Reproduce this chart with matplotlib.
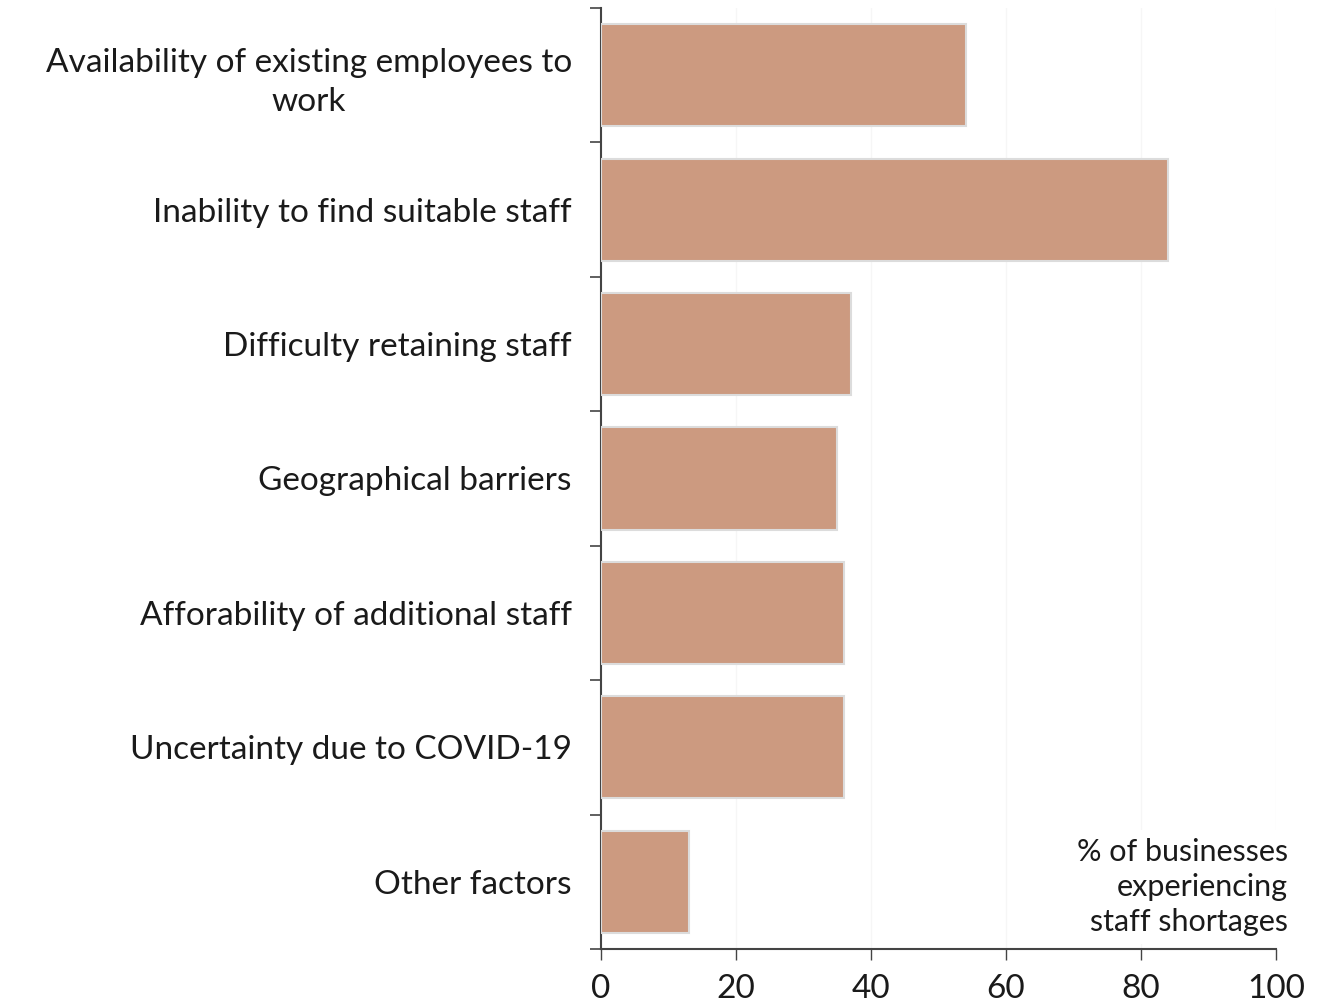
import matplotlib
matplotlib.use("Agg")
import matplotlib.pyplot as plt
import numpy as np

categories = [
    "Availability of existing employees to\nwork",
    "Inability to find suitable staff",
    "Difficulty retaining staff",
    "Geographical barriers",
    "Afforability of additional staff",
    "Uncertainty due to COVID-19",
    "Other factors",
]
values = [54, 84, 37, 35, 36, 36, 13]
xticks = [0, 20, 40, 60, 80, 100]
note = "% of businesses\nexperiencing\nstaff shortages"

plt.rcParams['font.family'] = ['Lato', 'DejaVu Sans']

fig = plt.figure(figsize=(13.32, 10.08), dpi=100)
ax = fig.add_axes([601/1332, 1-949/1008, 675/1332, 941/1008])

y = np.arange(len(categories))
ax.barh(y, values, height=0.76, color="#CC9A80", edgecolor="#DCDCDC", linewidth=1.5, zorder=3)
ax.set_ylim(len(categories)-0.5, -0.5)
ax.set_xlim(0, 100)

ax.set_yticks(np.arange(len(categories)+1)-0.5)
ax.set_yticklabels([])
ax.set_yticks(y, minor=True)
ax.set_yticklabels(categories, minor=True, fontsize=24, color="#1a1a1a", linespacing=1.35)
for lab in ax.get_yticklabels(minor=True):
    lab.set_multialignment('center')
ax.tick_params(axis='y', which='minor', length=0, pad=21)
ax.tick_params(axis='y', which='major', length=8, width=1.2, color="#444444", direction='out')

ax.set_xticks(xticks)
ax.set_xticklabels([str(t) for t in xticks], fontsize=24, color="#1a1a1a")
ax.tick_params(axis='x', length=8, width=1.0, color="#444444", direction='out', pad=10)

for s in ['top', 'right']:
    ax.spines[s].set_visible(False)
for s in ['left', 'bottom']:
    ax.spines[s].set_color("#444444")
    ax.spines[s].set_linewidth(1.5)

ax.grid(axis='x', color="#F6F6F6", linewidth=1.0, zorder=0)
ax.set_axisbelow(True)

fig.text(1288/1332, 1-936/1008, note, ha='right', va='bottom', fontsize=22,
         color="#1a1a1a", linespacing=1.3,
         bbox=dict(facecolor='white', edgecolor='none', pad=6), zorder=5)

fig.savefig("out.png", dpi=100)
